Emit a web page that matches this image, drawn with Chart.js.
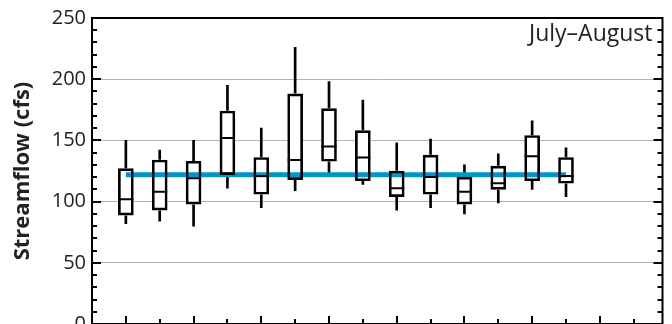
<!DOCTYPE html>
<html>
<head>
<meta charset="utf-8">
<script src="https://cdn.jsdelivr.net/npm/chart.js@4"></script>
<style>
  html, body { margin: 0; padding: 0; background: #fff; overflow: hidden; }
  #frame { width: 672px; height: 324px; overflow: hidden; }
  #wrap { width: 672px; height: 342px; }
</style>
</head>
<body>
<div id="frame"><div id="wrap"><canvas id="chart"></canvas></div></div>
<script>
// one box per year position on the x axis
const positions = [1, 2, 3, 4, 5, 6, 7, 8, 9, 10, 11, 12, 13, 14];
const whiskerLow  = [82, 84, 80, 111, 95, 109, 122, 114, 93, 95, 90, 99, 110, 104];
const boxLow      = [89, 93, 98, 122, 106, 118, 133, 117, 104, 106, 98, 110, 117, 115];
const medians     = [102, 108, 119, 152, 121, 134, 145, 136, 111, 120, 108, 115, 137, 121];
const boxHigh     = [127, 134, 133, 174, 136, 188, 176, 158, 125, 138, 120, 129, 154, 136];
const whiskerHigh = [150, 142, 150, 195, 160, 226, 198, 183, 148, 151, 130, 139, 166, 144];
const meanFlow = 122;
const periodLabel = 'July–August';
const yTicks = [0, 50, 100, 150, 200, 250];

const font = 'Open Sans';

const frameTicks = {
  id: 'frameTicks',
  afterDatasetsDraw(chart) {
    const { ctx, chartArea: a, scales: { x, y } } = chart;
    ctx.save();
    ctx.strokeStyle = '#000';
    ctx.lineWidth = 2;
    ctx.beginPath();
    ctx.moveTo(a.left, a.top);
    ctx.lineTo(a.right, a.top);
    ctx.lineTo(a.right, a.bottom);
    ctx.stroke();

    ctx.beginPath();
    for (let v = 0; v <= 250; v += 10) {
      const py = Math.round(y.getPixelForValue(v));
      const len = v % 50 === 0 ? 9 : 5;
      ctx.moveTo(a.left, py);
      ctx.lineTo(a.left + len, py);
      ctx.moveTo(a.right, py);
      ctx.lineTo(a.right - len, py);
    }
    for (let k = 1; k <= 16; k++) {
      const px = Math.round(x.getPixelForValue(k));
      const len = k % 2 === 1 ? 8 : 5;
      ctx.moveTo(px, a.bottom);
      ctx.lineTo(px, a.bottom - len);
    }
    ctx.stroke();

    ctx.fillStyle = '#222';
    ctx.font = '23px "' + font + '"';
    ctx.textAlign = 'right';
    ctx.textBaseline = 'alphabetic';
    ctx.fillText(periodLabel, a.right - 10, a.top + 23);
    ctx.restore();
  }
};

const pts = arr => positions.map((p, i) => ({ x: p, y: arr[i] }));
const ranges = (lo, hi) => positions.map((p, i) => ({ x: p, y: [lo[i], hi[i]] }));

new Chart(document.getElementById('chart'), {
  type: 'bar',
  data: {
    datasets: [
      {
        label: 'whiskers',
        data: ranges(whiskerLow, whiskerHigh),
        backgroundColor: '#000',
        barThickness: 2,
        grouped: false,
        order: 4
      },
      {
        label: 'box fill',
        data: ranges(boxLow, boxHigh),
        backgroundColor: '#fff',
        borderWidth: 0,
        barThickness: 15,
        grouped: false,
        order: 3
      },
      {
        type: 'line',
        label: 'mean',
        data: [{ x: positions[0], y: meanFlow }, { x: positions[positions.length - 1], y: meanFlow }],
        borderColor: '#0096c8',
        borderWidth: 5,
        pointRadius: 0,
        order: 2
      },
      {
        label: 'box',
        data: ranges(boxLow, boxHigh),
        backgroundColor: 'rgba(0,0,0,0)',
        borderColor: '#000',
        borderWidth: 2,
        borderSkipped: false,
        barThickness: 15,
        grouped: false,
        order: 1
      },
      {
        type: 'scatter',
        label: 'median',
        data: pts(medians),
        pointStyle: 'line',
        pointRadius: 7.5,
        borderColor: '#000',
        borderWidth: 2,
        order: 0
      }
    ]
  },
  options: {
    responsive: true,
    maintainAspectRatio: false,
    animation: false,
    layout: { padding: { top: 17, right: 7, bottom: 1, left: 0 } },
    plugins: {
      legend: { display: false },
      tooltip: { enabled: false }
    },
    scales: {
      x: {
        type: 'linear',
        offset: false,
        min: 0,
        max: 16.85,
        ticks: { display: false },
        grid: { display: false, drawTicks: false },
        border: { display: true, color: '#000', width: 2 }
      },
      y: {
        min: 0,
        max: 250,
        afterBuildTicks(scale) {
          scale.ticks = yTicks.map(v => ({ value: v }));
        },
        afterFit(scale) { scale.width = 92; },
        ticks: {
          font: { family: font, size: 20 },
          color: '#222',
          padding: 6
        },
        grid: { color: '#b3b3b3', lineWidth: 1, drawTicks: false },
        border: { display: true, color: '#000', width: 2 },
        title: {
          display: true,
          text: 'Streamflow (cfs)',
          font: { family: font, size: 22, weight: 'bold' },
          color: '#222',
          padding: { top: 10, bottom: 0 }
        }
      }
    }
  },
  plugins: [frameTicks]
});
</script>
</body>
</html>
